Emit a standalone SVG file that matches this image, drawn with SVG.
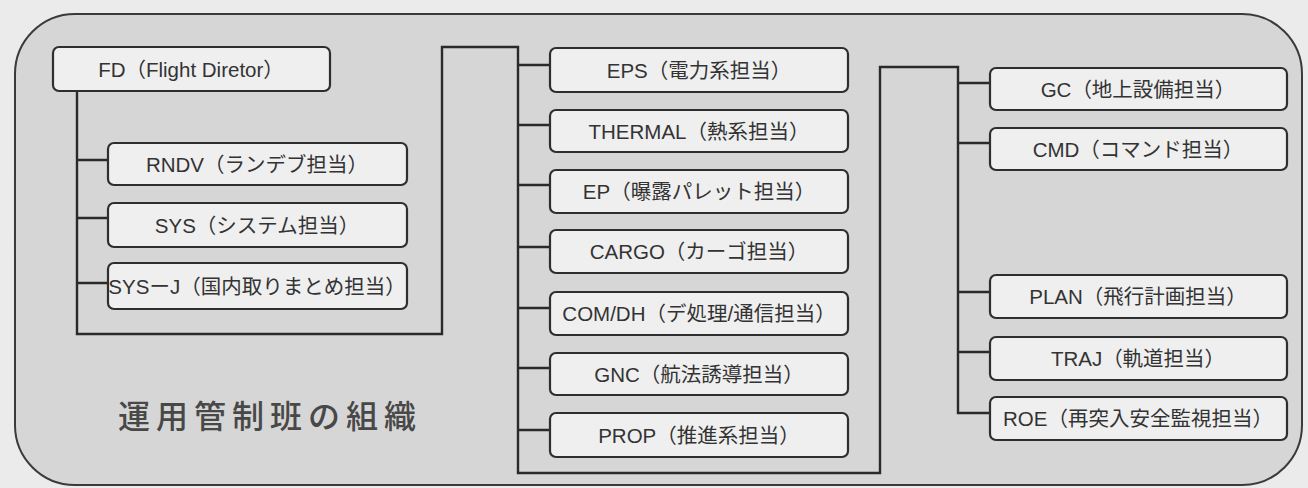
<svg xmlns="http://www.w3.org/2000/svg" width="1308" height="488" viewBox="0 0 1308 488">
<style>
.box{fill:#efefef;stroke:#2e2e2e;stroke-width:2.2}
.lbl{font-family:"Liberation Sans","Noto Sans CJK JP",sans-serif;font-size:20.5px;fill:#333;text-anchor:middle;dominant-baseline:central}
.conn{fill:none;stroke:#2a2a2a;stroke-width:2.4}
.title{font-family:"Noto Sans CJK JP",sans-serif;font-size:32px;font-weight:500;fill:#484848;letter-spacing:6px}
</style>
<rect x="0" y="0" width="1308" height="488" fill="#ebebeb"/>
<rect id="frame" x="15" y="14" width="1287" height="471" rx="60" ry="60" fill="#d6d6d6" stroke="#3a3a3a" stroke-width="2"/>
<text class="title" x="118" y="428">運用管制班の組織</text>
<g id="connectors" class="conn">
<path d="M77,91 V334 H442 V47 H518 V473 H880 V67 H958 V413 H990"/>
<path d="M77,160 H108 M77,218 H108 M77,283 H108"/>
<path d="M518,65 H550 M518,125 H550 M518,185 H550 M518,247 H550 M518,308 H550 M518,368 H550 M518,430 H550"/>
<path d="M958,83 H990 M958,143 H990 M958,292 H990 M958,352 H990"/>
</g>
<g id="fd"><rect class="box" x="53" y="47" width="277" height="44" rx="6"/><text class="lbl" x="191" y="69">FD（Flight  Diretor）</text></g>
<g id="rndv"><rect class="box" x="108" y="143" width="299" height="42" rx="6"/><text class="lbl" x="257" y="164">RNDV（ランデブ担当）</text></g>
<g id="sys"><rect class="box" x="108" y="203" width="299" height="44" rx="6"/><text class="lbl" x="257" y="225">SYS（システム担当）</text></g>
<g id="sysj"><rect class="box" x="108" y="263" width="299" height="46" rx="6"/><text class="lbl" x="257" y="286">SYSーJ（国内取りまとめ担当）</text></g>
<g id="eps"><rect class="box" x="550" y="48" width="298" height="44" rx="6"/><text class="lbl" x="699" y="70">EPS（電力系担当）</text></g>
<g id="thermal"><rect class="box" x="550" y="110" width="298" height="42" rx="6"/><text class="lbl" x="699" y="131">THERMAL（熱系担当）</text></g>
<g id="ep"><rect class="box" x="550" y="170" width="298" height="43" rx="6"/><text class="lbl" x="699" y="191">EP（曝露パレット担当）</text></g>
<g id="cargo"><rect class="box" x="550" y="230" width="298" height="43" rx="6"/><text class="lbl" x="699" y="251">CARGO（カーゴ担当）</text></g>
<g id="comdh"><rect class="box" x="550" y="292" width="298" height="43" rx="6"/><text class="lbl" x="699" y="313">COM/DH（デ処理/通信担当）</text></g>
<g id="gnc"><rect class="box" x="550" y="353" width="298" height="42" rx="6"/><text class="lbl" x="699" y="374">GNC（航法誘導担当）</text></g>
<g id="prop"><rect class="box" x="550" y="413" width="298" height="44" rx="6"/><text class="lbl" x="699" y="435">PROP（推進系担当）</text></g>
<g id="gc"><rect class="box" x="990" y="68" width="297" height="42" rx="6"/><text class="lbl" x="1138" y="89">GC（地上設備担当）</text></g>
<g id="cmd"><rect class="box" x="990" y="128" width="297" height="42" rx="6"/><text class="lbl" x="1138" y="149">CMD（コマンド担当）</text></g>
<g id="plan"><rect class="box" x="990" y="275" width="297" height="43" rx="6"/><text class="lbl" x="1138" y="296">PLAN（飛行計画担当）</text></g>
<g id="traj"><rect class="box" x="990" y="337" width="297" height="43" rx="6"/><text class="lbl" x="1138" y="358">TRAJ（軌道担当）</text></g>
<g id="roe"><rect class="box" x="990" y="397" width="297" height="43" rx="6"/><text class="lbl" x="1138" y="418">ROE（再突入安全監視担当）</text></g>
</svg>
